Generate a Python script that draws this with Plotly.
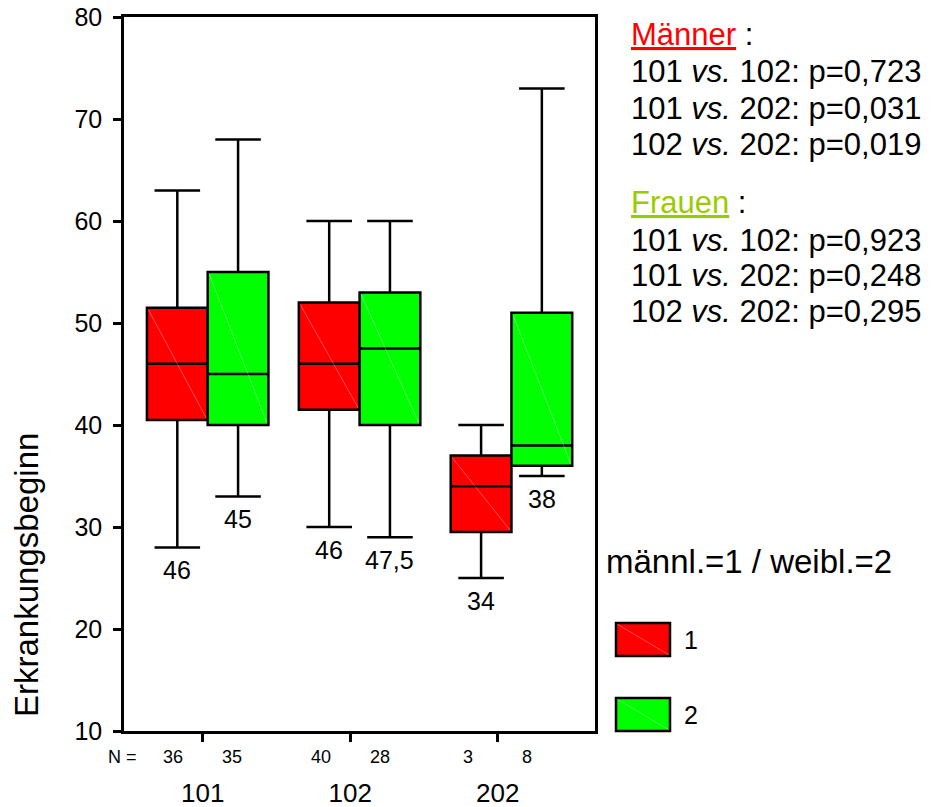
import plotly.graph_objects as go

# ---------------- data ----------------
groups = ["101", "102", "202"]
sex_labels = ["1", "2"]
sex_colors = ["#FF0000", "#00FF00"]

n_male = [36, 40, 3]
n_female = [35, 28, 8]

male_low = [28, 30, 25]
male_q1 = [40.5, 41.5, 29.5]
male_med = [46, 46, 34]
male_q3 = [51.5, 52, 37]
male_high = [63, 60, 40]
male_labels = ["46", "46", "34"]

female_low = [33, 29, 35]
female_q1 = [40, 40, 36]
female_med = [45, 47.5, 38]
female_q3 = [55, 53, 51]
female_high = [68, 60, 73]
female_labels = ["45", "47,5", "38"]

stats_text_m = ["101 <i>vs.</i> 102: p=0,723", "101 <i>vs.</i> 202: p=0,031", "102 <i>vs.</i> 202: p=0,019"]
stats_text_f = ["101 <i>vs.</i> 102: p=0,923", "101 <i>vs.</i> 202: p=0,248", "102 <i>vs.</i> 202: p=0,295"]

# ---------------- layout geometry ----------------
W, H = 938, 807
L, R, T, B = 124, 595, 17, 731
FONT = "Liberation Sans, Arial, Helvetica, sans-serif"


def PX(x):
    return (x - L) / (R - L)


def PY(y):
    return (B - y) / (B - T)


fig = go.Figure()

series = [
    (male_low, male_q1, male_med, male_q3, male_high, male_labels, -0.2, 0),
    (female_low, female_q1, female_med, female_q3, female_high, female_labels, 0.2, 1),
]
for low, q1, med, q3, high, labs, off, si in series:
    for gi in range(len(groups)):
        pos = gi + off
        fig.add_trace(go.Box(
            x=[pos], q1=[q1[gi]], median=[med[gi]], q3=[q3[gi]],
            lowerfence=[low[gi]], upperfence=[high[gi]],
            width=0.4, whiskerwidth=0.75, boxpoints=False,
            fillcolor=sex_colors[si], line=dict(color="black", width=2.5),
            xaxis="x2", yaxis="y", showlegend=False, hoverinfo="skip",
        ))
        # faint diagonal inside box
        fig.add_trace(go.Scatter(
            x=[pos - 0.19, pos + 0.19], y=[q3[gi] - 0.2, q1[gi] + 0.2], mode="lines",
            line=dict(color="rgba(255,255,255,0.55)", width=0.6),
            xaxis="x2", yaxis="y", showlegend=False, hoverinfo="skip",
        ))
        fig.add_annotation(
            x=pos, y=low[gi], xref="x2", yref="y", text=labs[gi], showarrow=False,
            yanchor="middle", yshift=-23, font=dict(family=FONT, size=25, color="black"),
        )

# N labels
for gi in range(len(groups)):
    for off, n in ((-0.2, n_male[gi]), (0.2, n_female[gi])):
        fig.add_annotation(
            x=gi + off, y=PY(757), xref="x", yref="paper", text=str(n), showarrow=False,
            yanchor="middle", font=dict(family=FONT, size=18, color="black"),
        )
fig.add_annotation(x=PX(106), y=PY(757), xref="paper", yref="paper", text="N =", xanchor="left",
                   showarrow=False, yanchor="middle", font=dict(family=FONT, size=18, color="black"))

# Y axis title
fig.add_annotation(x=PX(26), y=PY(575), xref="paper", yref="paper", text="Erkrankungsbeginn",
                   textangle=-90, showarrow=False, xanchor="center", yanchor="middle",
                   font=dict(family=FONT, size=33, color="black"))

# right-hand statistics text
SZ = 31
fig.add_annotation(x=PX(629), y=PY(34), xref="paper", yref="paper", xanchor="left", yanchor="middle",
                   text="<span style='color:#FF0000;text-decoration:underline'>Männer</span> :",
                   showarrow=False, font=dict(family=FONT, size=SZ, color="black"))
for i, t in enumerate(stats_text_m):
    fig.add_annotation(x=PX(629), y=PY(72 + 36.2 * i), xref="paper", yref="paper", xanchor="left",
                       yanchor="middle", text=t, showarrow=False,
                       font=dict(family=FONT, size=SZ, color="black"))
fig.add_annotation(x=PX(629), y=PY(203), xref="paper", yref="paper", xanchor="left", yanchor="middle",
                   text="<span style='color:#99CC00;text-decoration:underline'>Frauen</span> :",
                   showarrow=False, font=dict(family=FONT, size=SZ, color="black"))
for i, t in enumerate(stats_text_f):
    fig.add_annotation(x=PX(629), y=PY(240 + 35.5 * i), xref="paper", yref="paper", xanchor="left",
                       yanchor="middle", text=t, showarrow=False,
                       font=dict(family=FONT, size=SZ, color="black"))

# legend
fig.add_annotation(x=PX(604), y=PY(561), xref="paper", yref="paper", xanchor="left", yanchor="middle",
                   text="männl.=1 / weibl.=2", showarrow=False,
                   font=dict(family=FONT, size=33, color="black"))
for si, (y0, y1) in enumerate(((623, 656), (698, 731))):
    fig.add_shape(type="rect", xref="paper", yref="paper", x0=PX(616), x1=PX(670), y0=PY(y1), y1=PY(y0),
                  fillcolor=sex_colors[si], line=dict(color="black", width=2.5))
    fig.add_shape(type="line", xref="paper", yref="paper", x0=PX(617), x1=PX(669), y0=PY(y0 + 1), y1=PY(y1 - 1),
                  line=dict(color="rgba(255,255,255,0.5)", width=0.6))
    fig.add_annotation(x=PX(682), y=PY((y0 + y1) / 2), xref="paper", yref="paper", xanchor="left",
                       yanchor="middle", text=sex_labels[si], showarrow=False,
                       font=dict(family=FONT, size=25, color="black"))

fig.update_layout(
    width=W, height=H,
    margin=dict(l=L, r=W - R, t=T, b=H - B, autoexpand=False),
    paper_bgcolor="white", plot_bgcolor="white",
    boxmode="overlay",
    showlegend=False,
    xaxis=dict(
        range=[(L - 202.7) / 147.5, (R - 202.7) / 147.5],
        tickvals=[0, 1, 2], ticktext=groups,
        ticks="outside", ticklen=8, tickwidth=2.5, tickcolor="black",
        showline=True, linecolor="black", linewidth=2.5, mirror=True,
        showgrid=False, zeroline=False, automargin=False,
        tickfont=dict(family=FONT, size=26, color="black"),
        ticklabelstandoff=29,
    ),
    xaxis2=dict(
        range=[-0.551, 2.55], overlaying="x", visible=False,
    ),
    yaxis=dict(
        range=[10, 80], tickvals=[10, 20, 30, 40, 50, 60, 70, 80],
        ticks="outside", ticklen=8, tickwidth=2.5, tickcolor="black",
        showline=True, linecolor="black", linewidth=2.5, mirror=True,
        showgrid=False, zeroline=False, automargin=False,
        tickfont=dict(family=FONT, size=25, color="black"),
        ticklabelstandoff=6,
    ),
)

fig.write_html("out.html")
